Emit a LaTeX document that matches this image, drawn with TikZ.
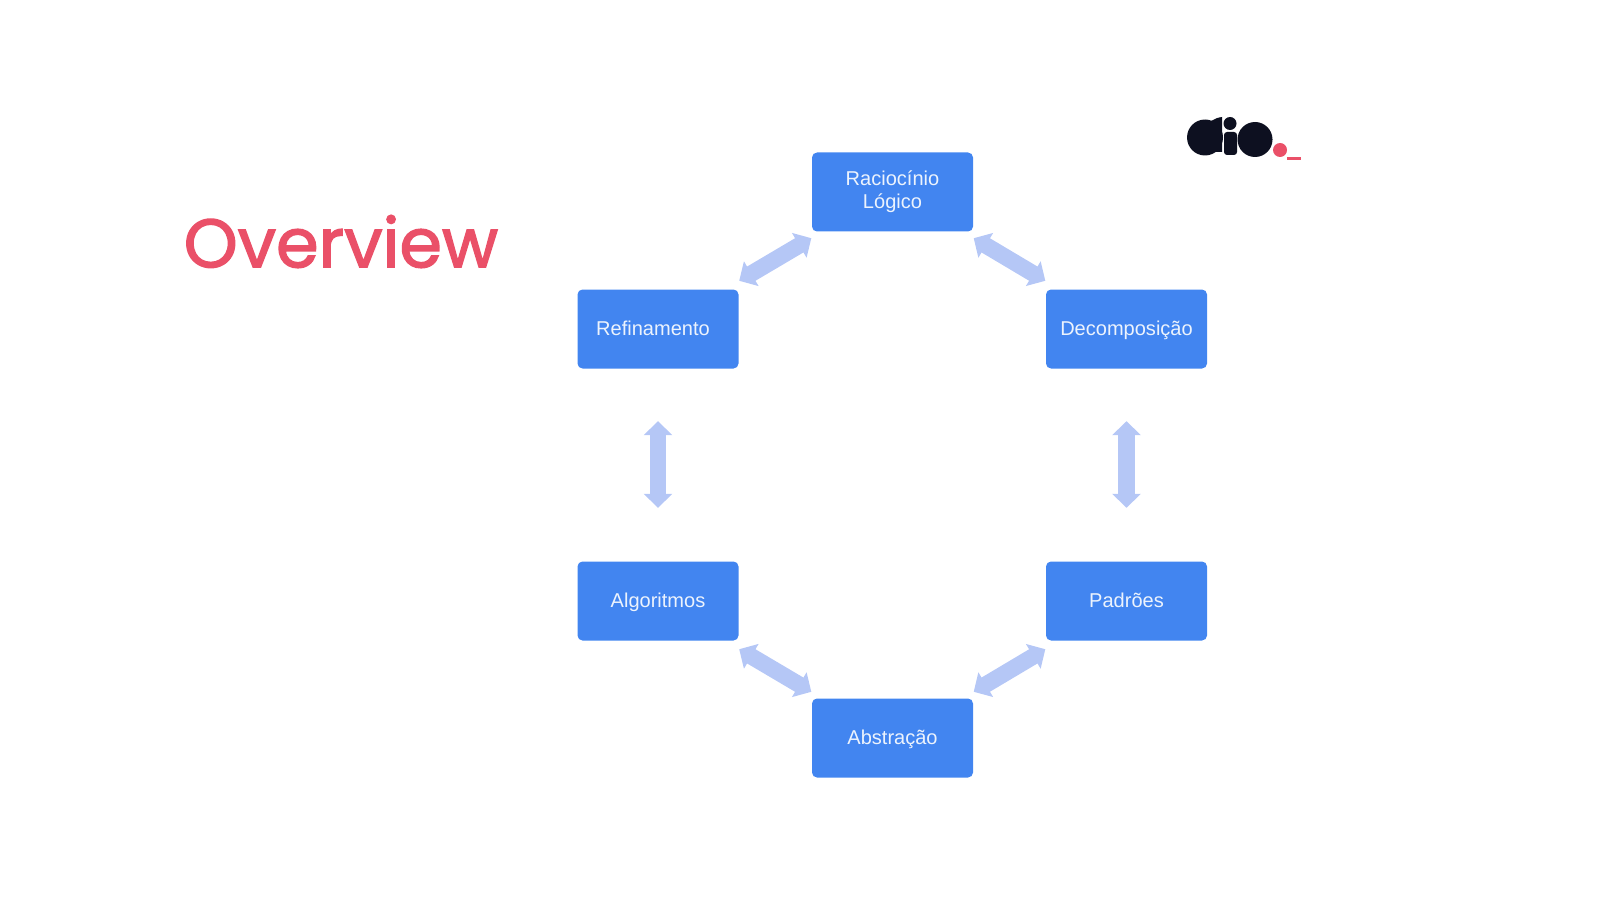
\documentclass[tikz,border=0pt]{standalone}
\usepackage{fontspec}
\setmainfont{Liberation Sans}
\newfontfamily\titlefont[FakeBold=2]{Poppins}
\usetikzlibrary{arrows.meta,positioning}
\definecolor{boxblue}{HTML}{4285F0}
\definecolor{arrowblue}{HTML}{B5C7F6}
\definecolor{titlered}{HTML}{EA5068}
\definecolor{logoink}{HTML}{0D1020}
\tikzset{
  block/.style={fill=boxblue,rounded corners=0.05cm,minimum width=1.61cm,minimum height=0.79cm,inner sep=0pt,align=center,text=white!90!boxblue,text height=0.15cm,text depth=0.03cm,font=\fontsize{5.7}{6.6}\selectfont},
  link/.style={draw=arrowblue,line width=0.165cm,{Triangle[width=0.28cm,length=0.14cm]}-{Triangle[width=0.28cm,length=0.14cm]}}
}
\begin{document}
\begin{tikzpicture}
  \useasboundingbox (0,0) rectangle (16,9);

  \node[text=titlered,inner sep=0pt,font=\fontsize{19.5}{24}\titlefont] (title) at (3.41,6.585) {Overview};

  \node[block,text height=,text depth=] (rac) at (8.925,7.08) {Raciocínio\\Lógico};
  \node[block] (dec) at (11.265,5.71) {Decomposição};
  \node[block] (pad) at (11.265,2.99) {Padrões};
  \node[block] (abs) at (8.925,1.62) {Abstração};
  \node[block] (alg) at (6.58,2.99) {Algoritmos};
  \node[block] (ref) at (6.58,5.71) {Refinamento\hspace{0.1cm}};

  \draw[link] ([yshift=-0.06cm]rac.south west)--([yshift=0.08cm]ref.north east);
  \draw[link] ([yshift=-0.06cm]rac.south east)--([yshift=0.08cm]dec.north west);
  \draw[link,shorten >=0.53cm,shorten <=0.52cm] (ref.south)--(alg.north);
  \draw[link,shorten >=0.53cm,shorten <=0.52cm] (dec.south)--(pad.north);
  \draw[link] ([yshift=0.06cm]abs.north west)--([yshift=-0.08cm]alg.south east);
  \draw[link] ([yshift=0.06cm]abs.north east)--([yshift=-0.08cm]pad.south west);

  % logo
  \fill[logoink] (12.05,7.625) circle (0.18);
  \fill[logoink] (12.03,7.70) .. controls (12.08,7.78) and (12.14,7.82) .. (12.22,7.83) -- (12.22,7.48) -- (12.05,7.48) -- cycle;
  \fill[logoink] (12.30,7.765) circle (0.065);
  \fill[logoink,rounded corners=0.03cm] (12.24,7.45) rectangle (12.37,7.68);
  \fill[logoink] (12.55,7.605) circle (0.175);
  \fill[titlered] (12.80,7.50) circle (0.07);
  \fill[titlered] (12.87,7.40) rectangle (13.01,7.43);
\end{tikzpicture}
\end{document}
